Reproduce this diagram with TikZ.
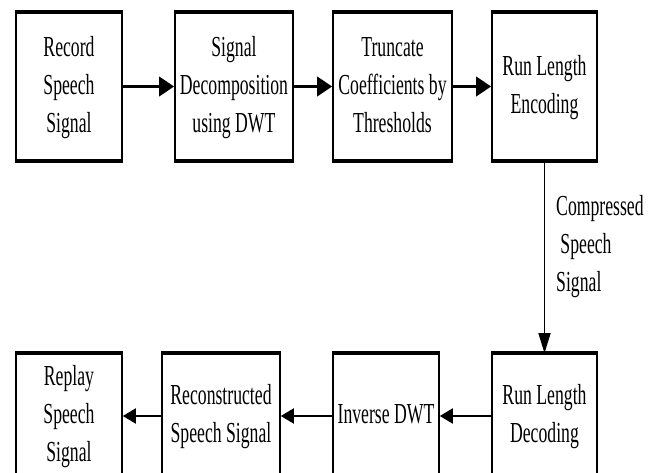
\documentclass[tikz,border=0pt]{standalone}
\usepackage{fontspec}
\setmainfont{Liberation Serif}
\usetikzlibrary{arrows.meta}
\newcommand{\sqtxt}[1]{\scalebox{0.61}[1]{\begin{tabular}{@{}c@{}}#1\end{tabular}}}
\tikzset{
  blk/.style={draw, line width=1.6pt, inner sep=0pt, font=\fontsize{29}{38}\selectfont},
  thickarr/.style={line width=3.5pt, -{Triangle[length=15pt,width=19pt]}},
  thinarr/.style={line width=2pt, -{Triangle[length=13pt,width=15pt]}},
  vertarr/.style={line width=1.4pt, -{Triangle[length=20pt,width=12pt]}},
  edge/.style={line width=3.6pt}
}
\begin{document}
\begin{tikzpicture}[x=1pt,y=-1pt]
\useasboundingbox (0,0) rectangle (659,472);
\clip (0,0) rectangle (659,472);
\fill[white] (0,0) rectangle (659,472);
% top row
\node[blk, minimum width=106pt, minimum height=147pt] (rec) at (69,86.5) {\sqtxt{Record\\Speech\\Signal}};
\node[blk, minimum width=118pt, minimum height=147pt] (dec) at (234,86.5) {\sqtxt{Signal\\Decomposition\\using DWT}};
\node[blk, minimum width=119pt, minimum height=147pt] (tru) at (392.5,86.5) {\sqtxt{Truncate\\Coefficients by\\Thresholds}};
\node[blk, minimum width=105pt, minimum height=147pt] (enc) at (544.5,86.5) {\sqtxt{Run Length\\Encoding}};
% bottom row
\node[blk, minimum width=106pt, minimum height=124pt] (rep) at (69,416) {\sqtxt{Replay\\Speech\\Signal}};
\node[blk, minimum width=118pt, minimum height=124pt] (rcs) at (221,416) {\sqtxt{Reconstructed\\Speech Signal}};
\node[blk, minimum width=106pt, minimum height=124pt] (inv) at (386,416) {\sqtxt{Inverse DWT}};
\node[blk, minimum width=105pt, minimum height=124pt] (rld) at (544.5,416) {\sqtxt{Run Length\\Decoding}};
% thick top / bottom edges
\foreach \n in {rec,dec,tru,enc}{
  \draw[edge] (\n.north west) -- (\n.north east);
  \draw[edge] (\n.south west) -- (\n.south east);
}
\foreach \n in {rep,rcs,inv,rld}{
  \draw[edge] (\n.north west) -- (\n.north east);
}
% arrows
\draw[thickarr] (rec.east) -- (dec.west);
\draw[thickarr] (dec.east) -- (tru.west);
\draw[thickarr] (tru.east) -- (enc.west);
\draw[vertarr] (enc.south) -- (rld.north);
\draw[thinarr] (rld.west) -- (inv.east);
\draw[thinarr] (inv.west) -- (rcs.east);
\draw[thinarr] (rcs.west) -- (rep.east);
% label
\node[anchor=base west, inner sep=0pt, font=\fontsize{29}{38}\selectfont] (lab) at (556,215)
  {\scalebox{0.61}[1]{\begin{tabular}[t]{@{}l@{}}Compressed\\\hspace{7pt}Speech\\Signal\end{tabular}}};
\end{tikzpicture}
\end{document}
